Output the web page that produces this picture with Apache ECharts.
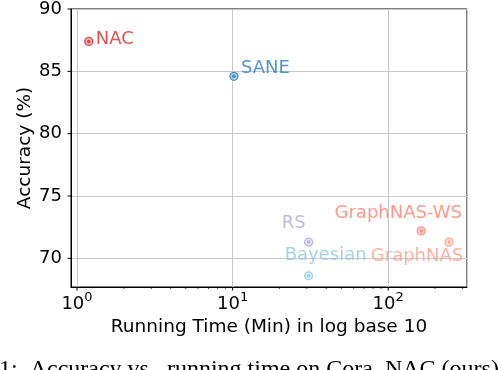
<!DOCTYPE html>
<html>
<head>
<meta charset="utf-8">
<script src="https://cdn.jsdelivr.net/npm/echarts@6/dist/echarts.min.js"></script>
<style>
  html, body { margin: 0; padding: 0; background: #fff; }
  #chart { width: 502px; height: 370px; }
</style>
</head>
<body>
<div id="chart"></div>
<script>
// methods, running time in minutes, accuracy in %
var methods = ['NAC', 'SANE', 'RS', 'Bayesian', 'GraphNAS-WS', 'GraphNAS'];
var runTime = [1.19, 10.2, 30.8, 30.8, 163, 246];
var accuracy = [87.4, 84.6, 71.3, 68.6, 72.2, 71.3];

// axis ticks
var xMajorTicks = [1, 10, 100];
var xMinorTicks = [2, 3, 4, 5, 6, 7, 8, 9, 20, 30, 40, 50, 60, 70, 80, 90, 200, 300];
var yTicks = [70, 75, 80, 85, 90];
var xMin = 0.915, xMax = 321, yMin = 67.7, yMax = 90;

// look of each point and its label
var styles = {
  'NAC':         { color: '#d62728', align: 'left',   offset: [7, -2] },
  'SANE':        { color: '#2a7ab9', align: 'left',   offset: [7, -8] },
  'RS':          { color: '#b3aad8', align: 'center', offset: [-15, -19] },
  'Bayesian':    { color: '#8ec9df', align: 'center', offset: [17, -20] },
  'GraphNAS-WS': { color: '#fa7f6f', align: 'center', offset: [-23, -18] },
  'GraphNAS':    { color: '#f9a08a', align: 'center', offset: [-32, 14] }
};

var FONT = 'DejaVu Sans';

function fade(hex, a) {
  var r = parseInt(hex.substr(1, 2), 16), g = parseInt(hex.substr(3, 2), 16), b = parseInt(hex.substr(5, 2), 16);
  return 'rgb(' + Math.round(255 - (255 - r) * a) + ',' + Math.round(255 - (255 - g) * a) + ',' + Math.round(255 - (255 - b) * a) + ')';
}

var points = methods.map(function (m, i) {
  var s = styles[m];
  return {
    name: m,
    value: [runTime[i], accuracy[i]],
    itemStyle: { color: fade(s.color, 0.45), borderColor: s.color, borderWidth: 1.3 },
    label: {
      show: true, formatter: m, position: 'inside', color: s.color,
      align: s.align, verticalAlign: 'middle', offset: s.offset,
      fontFamily: FONT, fontSize: 18
    }
  };
});
var dots = methods.map(function (m, i) {
  return { value: [runTime[i], accuracy[i]], itemStyle: { color: styles[m].color } };
});

function tickSeries(data, horizontal, len) {
  return {
    type: 'custom', silent: true, clip: false, z: 5,
    data: data,
    renderItem: function (params, api) {
      var p = api.coord([api.value(0), api.value(1)]);
      var shape = horizontal
        ? { x1: p[0], y1: p[1], x2: p[0] - len, y2: p[1] }
        : { x1: p[0], y1: p[1], x2: p[0], y2: p[1] + len };
      return { type: 'line', shape: shape, style: { stroke: '#000', lineWidth: horizontal || len > 3 ? 1 : 0.7 } };
    }
  };
}

var chart = echarts.init(document.getElementById('chart'), null, { renderer: 'canvas' });
chart.setOption({
  animation: false,
  textStyle: { fontFamily: FONT },
  grid: { left: 71, right: 35, top: 7, bottom: 83, show: true, borderColor: '#000', borderWidth: 1, containLabel: false },
  xAxis: {
    type: 'log', logBase: 10, min: xMin, max: xMax,
    name: 'Running Time (Min) in log base 10', nameLocation: 'middle', nameGap: 30,
    nameTextStyle: { fontFamily: FONT, fontSize: 18.5, color: '#000' },
    axisLine: { lineStyle: { color: '#000', width: 1 } },
    axisTick: { show: false },
    splitLine: { show: true, lineStyle: { color: '#c8c8c8', width: 1 } },
    axisLabel: {
      margin: 4, color: '#000', fontFamily: FONT,
      formatter: function (v) {
        var e = Math.log10(v);
        if (Math.abs(e - Math.round(e)) > 1e-6) return '';
        return '{b|10}{s|' + Math.round(e) + '}';
      },
      rich: {
        b: { fontFamily: FONT, fontSize: 18, lineHeight: 22, color: '#000', verticalAlign: 'bottom' },
        s: { fontFamily: FONT, fontSize: 13, lineHeight: 13, color: '#000', verticalAlign: 'top' }
      }
    }
  },
  yAxis: {
    type: 'value', min: yMin, max: yMax,
    name: 'Accuracy (%)', nameLocation: 'middle', nameGap: 36, nameRotate: 90,
    nameMoveOverlap: false,
    nameTextStyle: { fontFamily: FONT, fontSize: 18.5, color: '#000' },
    axisLine: { show: true, lineStyle: { color: '#000', width: 1 } },
    axisTick: { show: false },
    splitLine: { show: true, lineStyle: { color: '#c8c8c8', width: 1 } },
    axisLabel: {
      margin: 9, color: '#000', fontFamily: FONT, fontSize: 18,
      formatter: function (v) {
        return Math.abs(v / 5 - Math.round(v / 5)) < 1e-6 ? String(Math.round(v)) : '';
      }
    }
  },
  series: [
    { type: 'scatter', symbol: 'circle', symbolSize: 8, data: points, z: 3 },
    { type: 'scatter', symbol: 'circle', symbolSize: 3.5, data: dots, silent: true, z: 4 },
    tickSeries(xMajorTicks.map(function (v) { return [v, yMin]; }), false, 3.5),
    tickSeries(xMinorTicks.map(function (v) { return [v, yMin]; }), false, 2),
    tickSeries(yTicks.map(function (v) { return [xMin, v]; }), true, 3.5)
  ],
  graphic: [{
    type: 'text', left: -1, top: 358, silent: true,
    style: {
      text: '1:  Accuracy vs.  running time on Cora. NAC (ours)',
      font: '24px "Liberation Serif"', fill: '#000'
    }
  }]
});
</script>
</body>
</html>
